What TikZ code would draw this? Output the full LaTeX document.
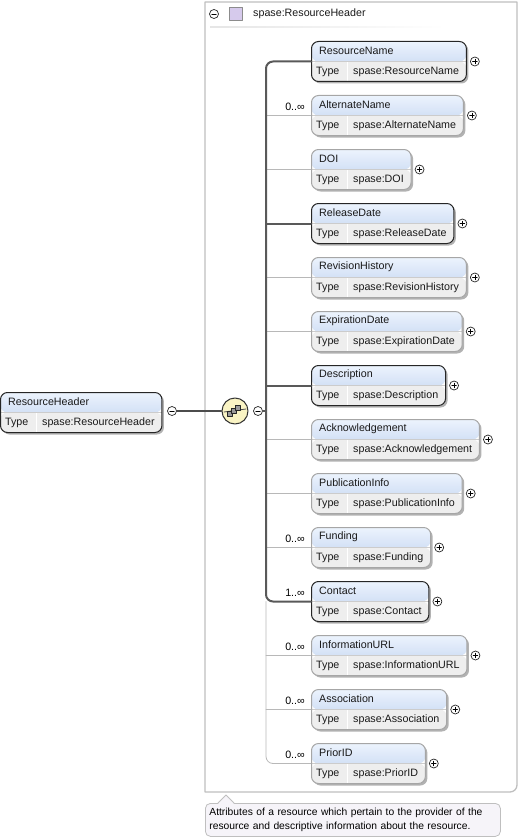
\documentclass[tikz,border=0pt]{standalone}
\usepackage{fontspec}
\setmainfont{Liberation Sans}
\usetikzlibrary{positioning,calc,shadows}

\definecolor{hdtop}{RGB}{236,243,253}
\definecolor{hdbot}{RGB}{186,206,238}
\definecolor{rowgray}{RGB}{238,238,238}
\definecolor{seqfill}{RGB}{250,244,196}
\definecolor{notefill}{RGB}{246,244,249}
\definecolor{lavfill}{RGB}{214,202,236}

\newlength\typew
\newcommand\elfont{\fontsize{10.7}{12}\selectfont}

% one element box: id, x, y (top), label, type, border style
\newcommand\xelem[6]{%
  \pgfinterruptpicture\settowidth{\typew}{\elfont #5}\global\typew=\typew\endpgfinterruptpicture
  \node[elbox, #6, minimum width={\typew+49pt}, anchor=north west] (#1) at (#2,#3) {};
  \node[eltext, anchor=west] (#1-name) at ([xshift=8,yshift=-10]#1.north west) {#4};
  \node[eltext, anchor=west] (#1-type) at ([xshift=5,yshift=10]#1.south west) {Type};
  \node[eltext, anchor=west] (#1-val) at ([xshift=42,yshift=10]#1.south west) {#5};
}
% child element with its plus sign
\newcommand\elem[4]{%
  \xelem{#1}{311}{#2}{#3}{spase:#3}{#4}
  \node[plussign] (#1-p) at ([xshift=8]#1.east) {};
}
\newcommand\mult[2]{%
  \node[multtext, anchor=base east] (#1-m) at ([xshift=-6,yshift=5]#1.west) {#2};
}

\tikzset{
  eltext/.style={font=\elfont, inner sep=0pt, text=black!90},
  multtext/.style={font=\elfont, inner sep=0pt},
  elbox/.style={rectangle, rounded corners=7pt, minimum height=40, inner sep=0pt,
    line width=1pt, fill=white,
    drop shadow={shadow xshift=2pt, shadow yshift=-2pt, fill=black!30, opacity=1},
    path picture={
      \shade[top color=hdtop, bottom color=hdbot] (path picture bounding box.north west) rectangle (path picture bounding box.east);
      \fill[rowgray] (path picture bounding box.west) rectangle (path picture bounding box.south east);
      \draw[white, line width=1.2pt] ([xshift=36pt]path picture bounding box.south west) -- ([xshift=36pt]path picture bounding box.west);
      \draw[black!20, line width=.6pt] (path picture bounding box.west) -- (path picture bounding box.east);
    }},
  reqbox/.style={draw=black!85},
  optbox/.style={draw=black!35},
  reqline/.style={line width=2pt, draw=black!65},
  optline/.style={line width=.8pt, draw=black!28},
  plussign/.style={circle, draw=black!85, fill=white, minimum size=9pt, inner sep=0pt, line width=.7pt,
    path picture={\draw[black, line width=.7pt]
      ([xshift=-2.3pt]path picture bounding box.center) -- ([xshift=2.3pt]path picture bounding box.center)
      ([yshift=-2.3pt]path picture bounding box.center) -- ([yshift=2.3pt]path picture bounding box.center);}},
  minussign/.style={circle, draw=black!85, fill=white, minimum size=9pt, inner sep=0pt, line width=.7pt,
    path picture={\draw[black, line width=.7pt]
      ([xshift=-2.3pt]path picture bounding box.center) -- ([xshift=2.3pt]path picture bounding box.center);}},
  seq/.style={circle, draw=black!80, line width=1pt, fill=seqfill, minimum size=26pt, inner sep=0pt},
  note/.style={rectangle, rounded corners=5pt, draw=black!25, fill=notefill, line width=.8pt,
    font=\fontsize{10.3}{14.5}\selectfont, align=left, inner xsep=4pt, inner ysep=0pt,
    minimum width=295, minimum height=33, text width=287},
}

\begin{document}
\begin{tikzpicture}[line cap=round,line join=round,x=1pt,y=-1pt]
  \useasboundingbox (0,0) rectangle (519,840);
  % container of the complex type
  \draw[black!25, line width=1.3pt] (205,2) -- (517,2) [rounded corners=7pt] -- (517,792) [sharp corners] -- (205,792) -- cycle;
  \node[minussign] (ct-m) at (214,14) {};
  \node[rectangle, draw=black!45, fill=lavfill, minimum size=13pt, inner sep=0pt] (ct-icon) at (236,14) {};
  \node[eltext, anchor=west] (ct-name) at (253,14) {spase:ResourceHeader};
  \shade[left color=black!10, right color=white] (210,26.5) rectangle (445,28);

  % root element
  \xelem{ResourceHeader}{0}{392}{ResourceHeader}{spase:ResourceHeader}{reqbox}
  \node[minussign] (rh-m) at (172,411) {};
  \node[seq] (seq) at (235,411) {};
  \draw[black!70, line width=.8pt] (224,412) -- (246,409);
  \draw[fill=black!40, draw=black!85, line width=.6pt] (227,411) rectangle (232,416);
  \draw[fill=black!40, draw=black!85, line width=.6pt] (231,408) rectangle (236,413);
  \draw[fill=black!40, draw=black!85, line width=.6pt] (235,405) rectangle (240,410);
  \node[minussign] (seq-m) at (258,411) {};
  \coordinate (spine) at (266,411);
  \draw[black!70, line width=1.3pt] (rh-m) -- (seq);

  % children
  \elem{ResourceName}{41}{ResourceName}{reqbox}
  \elem{AlternateName}{95}{AlternateName}{optbox}
  \elem{DOI}{149}{DOI}{optbox}
  \elem{ReleaseDate}{203}{ReleaseDate}{reqbox}
  \elem{RevisionHistory}{257}{RevisionHistory}{optbox}
  \elem{ExpirationDate}{311}{ExpirationDate}{optbox}
  \elem{Description}{365}{Description}{reqbox}
  \elem{Acknowledgement}{419}{Acknowledgement}{optbox}
  \elem{PublicationInfo}{473}{PublicationInfo}{optbox}
  \elem{Funding}{527}{Funding}{optbox}
  \elem{Contact}{581}{Contact}{reqbox}
  \elem{InformationURL}{635}{InformationURL}{optbox}
  \elem{Association}{689}{Association}{optbox}
  \elem{PriorID}{743}{PriorID}{optbox}

  \mult{AlternateName}{0..∞}
  \mult{Funding}{0..∞}
  \mult{Contact}{1..∞}
  \mult{InformationURL}{0..∞}
  \mult{Association}{0..∞}
  \mult{PriorID}{0..∞}

  % connectors
  \draw[optline] (spine |- Contact.west) [rounded corners=7pt] |- (PriorID.west);
  \foreach \n in {AlternateName,DOI,RevisionHistory,ExpirationDate,Acknowledgement,PublicationInfo,Funding,InformationURL,Association}
    \draw[optline] (spine |- \n.west) -- (\n.west);
  \draw[reqline] (ResourceName.west) [rounded corners=7pt] -| (spine |- Contact.west) [sharp corners] -- (Contact.west);
  \foreach \n in {ReleaseDate,Description}
    \draw[reqline] (spine |- \n.west) -- (\n.west);
  \draw[reqline] (seq-m.east) -- (spine);

  % annotation
  \node[note, anchor=north west] (note) at (205,803) {Attributes of a resource which pertain to the provider of the\\resource and descriptive information about the resource.};
  \fill[notefill] (218,804) -- (226,795) -- (234,804) -- cycle;
  \draw[black!25, line width=.8pt] (218,803) -- (226,795) -- (234,803);
\end{tikzpicture}
\end{document}
